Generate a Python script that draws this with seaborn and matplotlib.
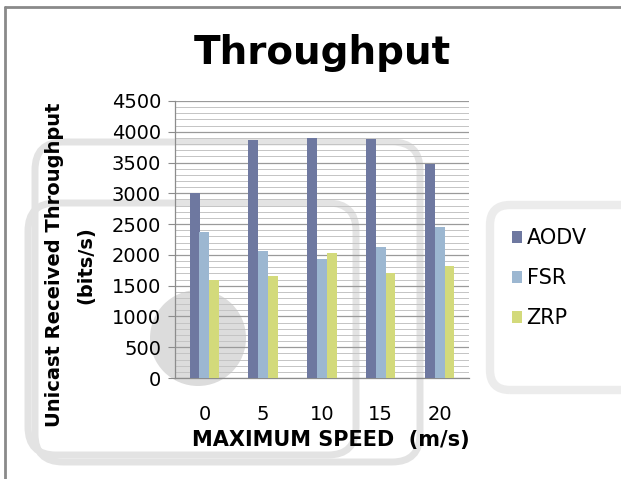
import matplotlib
matplotlib.use("Agg")
import matplotlib.pyplot as plt
from matplotlib.patches import FancyBboxPatch, Circle
from matplotlib.lines import Line2D
from matplotlib.ticker import MultipleLocator
import numpy as np
import pandas as pd
import seaborn as sns

sns.set_style("white")
plt.rcParams["font.family"] = ["DejaVu Sans"]
plt.rcParams.update({"text.color": "black", "xtick.labelcolor": "black",
                     "ytick.labelcolor": "black"})

speeds = ["0", "5", "10", "15", "20"]
protocols = ["AODV", "FSR", "ZRP"]
aodv = [3000, 3870, 3900, 3880, 3480]
fsr = [2370, 2060, 1940, 2130, 2460]
zrp = [1590, 1660, 2030, 1700, 1820]

palette = {"AODV": "#6E78A0", "FSR": "#9CB7D1", "ZRP": "#D3DA7B"}

df = pd.DataFrame({
    "speed": speeds * 3,
    "protocol": np.repeat(protocols, len(speeds)),
    "throughput": aodv + fsr + zrp,
})

W, H = 621, 479
fig = plt.figure(figsize=(W / 100, H / 100), dpi=100)


def px_box(x0, y0, x1, y1, r, **kw):
    # rounded box given in image pixels (y down), drawn in inches
    return FancyBboxPatch((x0 / 100, (H - y1) / 100), (x1 - x0) / 100,
                          (y1 - y0) / 100,
                          boxstyle=f"round,pad=0,rounding_size={r / 100}",
                          transform=fig.dpi_scale_trans, **kw)


# faint background shapes seen behind the chart
shade = "#e3e3e3"
fig.patches.append(px_box(35, 142, 420, 462, 28, fill=False, edgecolor=shade,
                          linewidth=5, zorder=-2))
fig.patches.append(px_box(28, 203, 356, 455, 28, fill=False, edgecolor=shade,
                          linewidth=5, zorder=-2))
fig.patches.append(px_box(490, 205, 680, 390, 20, fill=False, edgecolor="#ececec",
                          linewidth=6, zorder=-2))
fig.patches.append(Circle((198 / 100, (H - 338) / 100), 0.48,
                          transform=fig.dpi_scale_trans, facecolor="#dcdcdc",
                          edgecolor="none", zorder=-2))

ax = fig.add_axes([175 / W, 1 - 378 / H, 294 / W, 277 / H])
ax.set_facecolor("none")

sns.barplot(data=df, x="speed", y="throughput", hue="protocol",
            order=speeds, hue_order=protocols, palette=palette,
            width=0.5, gap=0, saturation=1, errorbar=None, linewidth=0,
            ax=ax, zorder=3)

ax.set_ylim(0, 4500)
ax.set_xlim(-0.5, 4.5)
ax.yaxis.set_major_locator(MultipleLocator(500))
ax.yaxis.set_minor_locator(MultipleLocator(100))
ax.grid(which="major", axis="y", color="#9a9a9a", linewidth=0.9, zorder=0)
ax.grid(which="minor", axis="y", color="#c4c4c4", linewidth=0.7, zorder=0)
ax.set_axisbelow(True)
for s in ["top", "right"]:
    ax.spines[s].set_visible(False)
for s in ["left", "bottom"]:
    ax.spines[s].set_color("#8c8c8c")
    ax.spines[s].set_linewidth(0.9)
ax.tick_params(axis="y", which="major", left=True, length=5, color="#8c8c8c",
               labelsize=14, pad=5)
ax.tick_params(axis="x", bottom=False, labelsize=14, pad=16)
ax.set_xlabel("")
ax.set_ylabel("")

ax.set_title("Throughput", fontsize=28, fontweight="bold", pad=27)
fig.text(331 / W, 1 - 440 / H, "MAXIMUM SPEED  (m/s)", fontsize=15,
         fontweight="bold", ha="center", va="center")
fig.text(55 / W, 1 - 265 / H, "Unicast Received Throughput", fontsize=14,
         fontweight="bold", rotation=90, ha="center", va="center")
fig.text(86 / W, 1 - 265 / H, "(bits/s)", fontsize=14,
         fontweight="bold", rotation=90, ha="center", va="center")

handles, labels = ax.get_legend_handles_labels()
ax.legend(handles, labels, loc="upper left", bbox_to_anchor=(512 / W, 1 - 228 / H),
          bbox_transform=fig.transFigure, frameon=False, fontsize=15,
          handlelength=0.5, handleheight=0.5, handletextpad=0.2,
          labelspacing=0.97, borderpad=0, borderaxespad=0)

# page frame: top and left edges only
fig.lines.append(Line2D([5 / W, 1.0], [1 - 7 / H, 1 - 7 / H],
                        transform=fig.transFigure, color="#8a8a8a", linewidth=2))
fig.lines.append(Line2D([5 / W, 5 / W], [0, 1 - 7 / H],
                        transform=fig.transFigure, color="#8a8a8a", linewidth=2))

fig.savefig("out.png", dpi=100)
